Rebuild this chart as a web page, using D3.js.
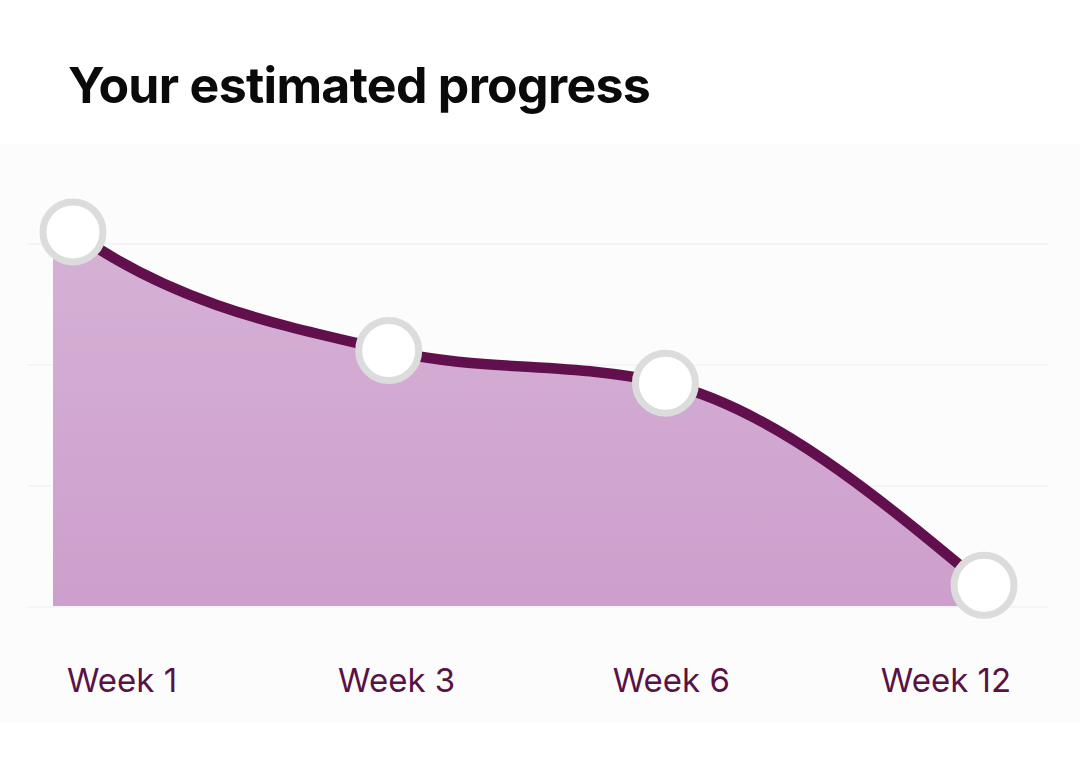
<!DOCTYPE html>
<html>
<head>
<meta charset="utf-8">
<script src="https://cdn.jsdelivr.net/npm/d3@7"></script>
<style>
  html, body { margin: 0; padding: 0; background: #ffffff; }
  svg { display: block; }
</style>
</head>
<body>
<div class="progress-chart"></div>
<script>
// check-in labels shown under the chart
const weeks = ["Week 1", "Week 3", "Week 6", "Week 12"];
// where each check-in sits along the timeline (0-100)
const timeline = [2.1, 35.3, 64.4, 97.9];
// estimated value at each check-in
const estimate = [31.0, 21.2, 18.5, 1.8];
// value where the shaded area starts, at timeline 0
const startValue = 32.2;
const gridTicks = [0, 10, 20, 30];

const width = 1080;
const height = 778;

const svg = d3.select(".progress-chart").append("svg")
    .attr("width", width)
    .attr("height", height);

// faint panel behind the plot
svg.append("rect")
    .attr("x", 0).attr("y", 144)
    .attr("width", width).attr("height", 579)
    .attr("fill", "#fcfcfc");

svg.append("text")
    .attr("x", 68)
    .attr("y", 103)
    .attr("font-family", "Inter, 'Noto Sans', sans-serif")
    .attr("font-weight", 700)
    .attr("font-size", 50)
    .attr("letter-spacing", -0.7)
    .attr("fill", "#0a0a0a")
    .text("Your estimated progress");

const x = d3.scaleLinear().domain([0, 100]).range([53, 1004]);
const y = d3.scaleLinear().domain([0, 30]).range([607, 244]);
const xLabel = d3.scalePoint().domain(weeks).range([122, 946]);

// gridlines
svg.append("g")
    .selectAll("line")
    .data(gridTicks)
    .join("line")
    .attr("x1", 27).attr("x2", 1048)
    .attr("y1", d => y(d)).attr("y2", d => y(d))
    .attr("stroke", "#efebf7")
    .attr("stroke-width", 1.2);

const points = timeline.map((t, i) => ({ t: t, v: estimate[i] }));
const areaData = [{ t: 0, v: startValue }].concat(points);

const defs = svg.append("defs");
const grad = defs.append("linearGradient")
    .attr("id", "fillGrad")
    .attr("x1", 0).attr("y1", 0).attr("x2", 0).attr("y2", 1);
grad.append("stop").attr("offset", "0%").attr("stop-color", "#d6b2d6");
grad.append("stop").attr("offset", "100%").attr("stop-color", "#cd9fcc");

const area = d3.area()
    .x(d => x(d.t))
    .y0(y(0) - 1)
    .y1(d => y(d.v))
    .curve(d3.curveMonotoneX);

const line = d3.line()
    .x(d => x(d.t))
    .y(d => y(d.v))
    .curve(d3.curveMonotoneX);

svg.append("path")
    .datum(areaData)
    .attr("fill", "url(#fillGrad)")
    .attr("d", area);

svg.append("path")
    .datum(areaData)
    .attr("fill", "none")
    .attr("stroke", "#62104d")
    .attr("stroke-width", 10.5)
    .attr("d", line);

svg.append("g")
    .selectAll("circle")
    .data(points)
    .join("circle")
    .attr("cx", d => x(d.t))
    .attr("cy", d => y(d.v))
    .attr("r", 30)
    .attr("fill", "#ffffff")
    .attr("stroke", "#dcdcdc")
    .attr("stroke-width", 7);

svg.append("g")
    .selectAll("text")
    .data(weeks)
    .join("text")
    .attr("x", d => xLabel(d))
    .attr("y", 692)
    .attr("text-anchor", "middle")
    .attr("font-family", "Inter, 'Noto Sans', sans-serif")
    .attr("font-size", 33)
    .attr("fill", "#5a1245")
    .text(d => d);
</script>
</body>
</html>
